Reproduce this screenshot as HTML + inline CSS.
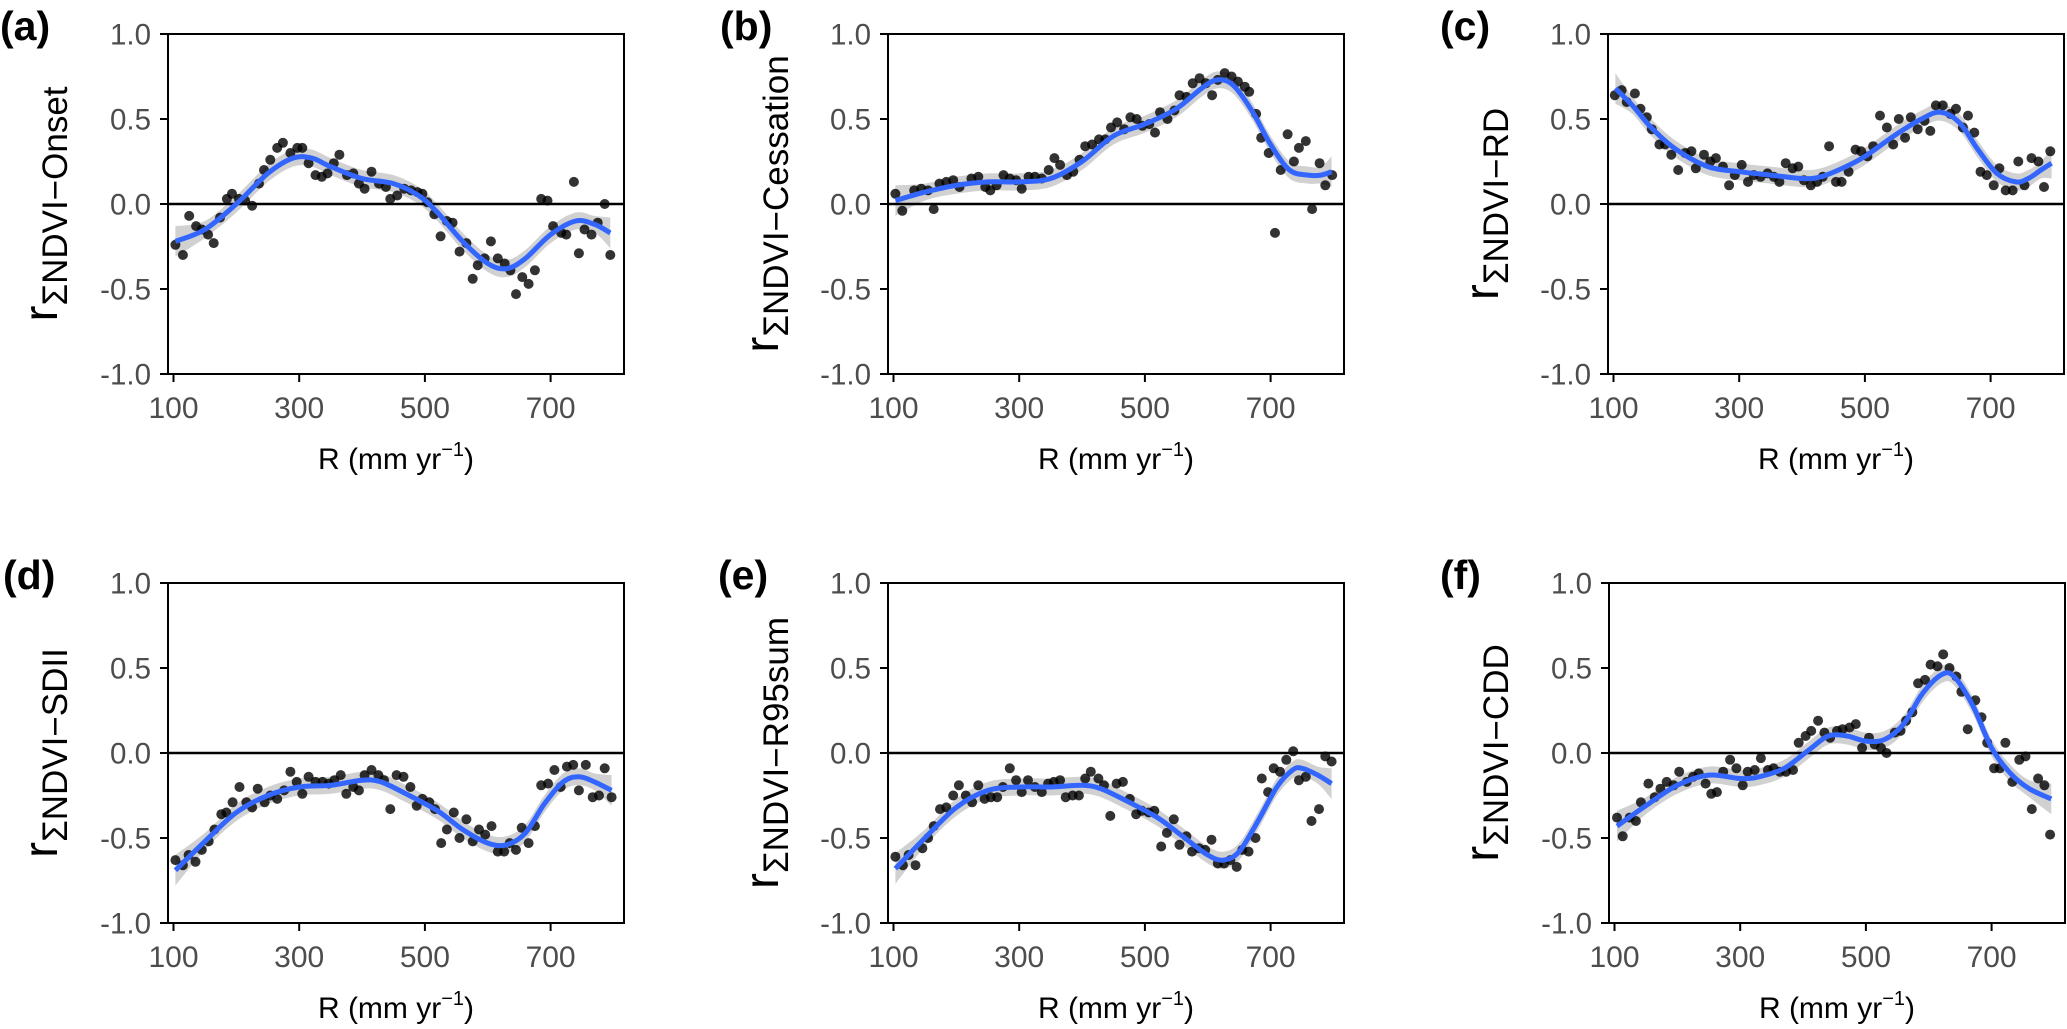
<!DOCTYPE html>
<html><head><meta charset="utf-8"><style>
html,body{margin:0;padding:0;background:#fff;}
svg{display:block;font-family:"Liberation Sans",Arial,sans-serif;}
</style></head><body>
<svg id="fig" width="2067" height="1029" viewBox="0 0 2067 1029" xmlns="http://www.w3.org/2000/svg"></svg>
<script>
// ---- Data ----
const xTicks = [100, 300, 500, 700];
const yTicks = [1.0, 0.5, 0.0, -0.5, -1.0];
const yTickLabels = ["1.0", "0.5", "0.0", "-0.5", "-1.0"];
const panelLetters = ["(a)", "(b)", "(c)", "(d)", "(e)", "(f)"];
const panelSubs = ["ΣNDVI−Onset", "ΣNDVI−Cessation", "ΣNDVI−RD", "ΣNDVI−SDII", "ΣNDVI−R95sum", "ΣNDVI−CDD"];

const xA = [103,115,125,136,145,155,164,174,185,193,204,214,225,236,244,254,265,274,286,297,305,315,326,336,345,355,364,376,386,395,404,415,427,438,445,456,467,478,488,496,504,515,525,535,544,555,566,576,584,595,605,616,627,636,645,655,665,675,685,695,704,717,725,737,745,754,765,775,786,795];
const yA = [-0.24,-0.30,-0.07,-0.13,-0.15,-0.18,-0.23,-0.08,0.03,0.06,0.03,0.02,-0.01,0.12,0.20,0.26,0.33,0.36,0.30,0.33,0.33,0.24,0.17,0.16,0.18,0.24,0.29,0.17,0.18,0.12,0.09,0.19,0.12,0.10,0.03,0.05,0.09,0.08,0.07,0.06,0.01,-0.06,-0.19,-0.10,-0.11,-0.28,-0.23,-0.44,-0.36,-0.32,-0.22,-0.32,-0.35,-0.39,-0.53,-0.43,-0.47,-0.39,0.03,0.02,-0.13,-0.17,-0.18,0.13,-0.29,-0.15,-0.18,-0.11,0.00,-0.30];
const cxA = [103,150,200,250,290,320,350,400,450,490,520,560,600,630,660,700,740,770,795];
const cyA = [-0.22,-0.15,0.00,0.18,0.27,0.27,0.22,0.15,0.12,0.05,-0.05,-0.22,-0.35,-0.38,-0.32,-0.18,-0.10,-0.12,-0.17];

const xB = [103,114,133,144,155,164,173,184,195,205,224,235,246,254,264,275,285,295,304,315,325,336,347,356,365,376,386,396,405,416,427,437,446,456,467,477,487,496,507,516,524,536,547,555,566,576,587,597,607,616,627,638,648,659,666,677,685,697,707,716,727,737,745,756,766,778,787,798];
const yB = [0.06,-0.04,0.08,0.09,0.08,-0.03,0.12,0.13,0.14,0.10,0.15,0.16,0.10,0.08,0.11,0.17,0.15,0.14,0.09,0.16,0.16,0.15,0.20,0.27,0.23,0.17,0.19,0.26,0.34,0.35,0.38,0.38,0.45,0.48,0.44,0.51,0.50,0.46,0.47,0.42,0.54,0.50,0.55,0.64,0.63,0.71,0.74,0.71,0.64,0.73,0.77,0.75,0.72,0.69,0.66,0.53,0.39,0.30,-0.17,0.20,0.41,0.25,0.33,0.37,-0.03,0.24,0.11,0.17];
const cxB = [103,150,200,250,300,350,400,450,500,550,590,615,640,670,700,730,760,780,797];
const cyB = [0.02,0.07,0.11,0.13,0.13,0.15,0.25,0.40,0.47,0.56,0.68,0.73,0.70,0.55,0.35,0.20,0.17,0.17,0.19];

const xC = [102,113,121,134,143,153,161,173,182,192,203,214,224,231,244,254,263,274,284,293,304,314,323,334,345,355,364,374,385,394,403,414,424,433,443,454,463,474,485,494,504,513,524,535,545,554,564,573,584,595,604,613,624,636,645,656,664,674,684,694,705,714,724,735,744,754,765,776,785,795];
const yC = [0.64,0.67,0.60,0.65,0.56,0.51,0.44,0.35,0.35,0.29,0.20,0.30,0.31,0.21,0.29,0.25,0.27,0.22,0.11,0.17,0.23,0.13,0.17,0.16,0.18,0.16,0.13,0.24,0.21,0.22,0.14,0.11,0.13,0.16,0.34,0.13,0.13,0.19,0.32,0.31,0.28,0.34,0.52,0.45,0.35,0.50,0.39,0.51,0.44,0.49,0.43,0.58,0.58,0.53,0.56,0.45,0.52,0.42,0.19,0.17,0.11,0.21,0.08,0.08,0.25,0.11,0.27,0.25,0.10,0.31];
const cxC = [103,130,160,200,250,300,350,400,430,470,500,550,590,620,650,680,710,740,760,780,797];
const cyC = [0.68,0.58,0.45,0.32,0.22,0.19,0.17,0.15,0.16,0.22,0.28,0.41,0.50,0.54,0.48,0.32,0.18,0.13,0.15,0.20,0.24];

const xD = [103,115,124,135,145,156,165,176,184,194,205,216,225,234,245,254,265,276,286,296,305,315,326,337,347,356,366,375,386,395,404,415,426,435,445,455,466,477,487,496,507,516,526,535,546,555,566,576,586,596,606,616,626,635,645,654,665,675,685,696,706,716,726,736,745,756,767,777,786,797];
const yD = [-0.63,-0.66,-0.60,-0.64,-0.57,-0.52,-0.45,-0.36,-0.35,-0.29,-0.20,-0.29,-0.32,-0.21,-0.29,-0.25,-0.27,-0.22,-0.11,-0.17,-0.24,-0.14,-0.17,-0.17,-0.18,-0.16,-0.13,-0.24,-0.20,-0.22,-0.13,-0.10,-0.13,-0.16,-0.33,-0.13,-0.14,-0.20,-0.31,-0.27,-0.29,-0.33,-0.53,-0.45,-0.35,-0.50,-0.39,-0.52,-0.45,-0.48,-0.43,-0.58,-0.58,-0.53,-0.57,-0.44,-0.53,-0.43,-0.19,-0.18,-0.10,-0.20,-0.08,-0.07,-0.22,-0.07,-0.26,-0.25,-0.09,-0.26];
const cxD = [103,150,200,250,300,350,400,430,470,520,560,600,630,660,690,720,745,770,797];
const cyD = [-0.69,-0.52,-0.35,-0.25,-0.20,-0.19,-0.16,-0.17,-0.24,-0.34,-0.45,-0.53,-0.54,-0.47,-0.30,-0.17,-0.14,-0.17,-0.22];

const xE = [103,115,124,135,146,155,164,174,184,195,204,215,225,235,245,255,265,274,285,295,304,314,325,336,346,355,365,374,385,395,405,414,426,435,445,455,465,476,486,495,506,515,526,535,546,555,566,575,586,596,606,616,626,636,646,655,665,676,686,696,705,715,725,736,745,756,765,777,787,797];
const yE = [-0.61,-0.66,-0.60,-0.66,-0.56,-0.50,-0.43,-0.33,-0.32,-0.25,-0.19,-0.25,-0.29,-0.19,-0.27,-0.26,-0.26,-0.20,-0.09,-0.16,-0.23,-0.16,-0.20,-0.23,-0.18,-0.17,-0.16,-0.26,-0.25,-0.25,-0.15,-0.11,-0.15,-0.19,-0.37,-0.18,-0.17,-0.27,-0.36,-0.34,-0.35,-0.34,-0.55,-0.47,-0.39,-0.54,-0.49,-0.58,-0.56,-0.57,-0.51,-0.65,-0.65,-0.63,-0.67,-0.57,-0.58,-0.50,-0.15,-0.23,-0.09,-0.11,-0.04,0.01,-0.16,-0.14,-0.40,-0.33,-0.02,-0.05];
const cxE = [103,150,200,250,300,350,400,430,470,520,560,600,625,650,680,710,735,750,775,797];
const cyE = [-0.68,-0.50,-0.32,-0.22,-0.20,-0.20,-0.19,-0.21,-0.28,-0.38,-0.49,-0.60,-0.63,-0.58,-0.40,-0.20,-0.10,-0.09,-0.13,-0.18];

const xF = [104,113,124,134,142,154,164,173,183,194,203,215,225,234,245,254,263,273,284,294,304,312,323,333,344,353,363,373,384,393,404,413,424,434,443,454,463,474,484,494,505,514,524,533,546,555,564,574,583,594,603,614,623,633,644,652,662,674,684,693,704,713,722,733,744,754,764,774,784,793];
const yF = [-0.38,-0.49,-0.38,-0.40,-0.29,-0.18,-0.26,-0.21,-0.17,-0.19,-0.11,-0.17,-0.14,-0.12,-0.18,-0.24,-0.23,-0.11,-0.04,-0.09,-0.19,-0.11,-0.10,-0.03,-0.10,-0.09,-0.11,-0.11,-0.10,0.06,0.10,0.13,0.19,0.12,0.09,0.13,0.14,0.15,0.17,0.03,0.09,0.05,0.03,0.00,0.12,0.13,0.19,0.24,0.41,0.43,0.52,0.51,0.58,0.50,0.45,0.36,0.14,0.31,0.21,0.06,-0.09,-0.09,0.06,-0.17,-0.04,-0.02,-0.33,-0.15,-0.19,-0.48];
const cxF = [104,150,200,250,300,330,370,410,440,470,500,530,560,590,620,640,670,700,730,760,795];
const cyF = [-0.43,-0.31,-0.19,-0.13,-0.15,-0.14,-0.09,0.02,0.10,0.10,0.07,0.08,0.17,0.35,0.46,0.45,0.28,0.03,-0.12,-0.21,-0.27];

// ---- Layout ----
const NS = "http://www.w3.org/2000/svg";
const svg = document.getElementById("fig");
const panelDefs = [
  {px: xA, py: yA, cx: cxA, cy: cyA, left: 168, top: 34, letterX: 0, letterY: 40, labX: 57},
  {px: xB, py: yB, cx: cxB, cy: cyB, left: 888, top: 34, letterX: 720, letterY: 40, labX: 778},
  {px: xC, py: yC, cx: cxC, cy: cyC, left: 1608, top: 34, letterX: 1440, letterY: 40, labX: 1498},
  {px: xD, py: yD, cx: cxD, cy: cyD, left: 168, top: 583, letterX: 3, letterY: 589, labX: 57},
  {px: xE, py: yE, cx: cxE, cy: cyE, left: 888, top: 583, letterX: 718, letterY: 589, labX: 778},
  {px: xF, py: yF, cx: cxF, cy: cyF, left: 1609, top: 583, letterX: 1440, letterY: 589, labX: 1498}
];
const W = 456, H = 340;

function mk(tag, attrs, parent) {
  const e = document.createElementNS(NS, tag);
  for (const k in attrs) e.setAttribute(k, attrs[k]);
  (parent || svg).appendChild(e);
  return e;
}
function spline(pts) {
  let d = "M" + pts[0][0].toFixed(1) + "," + pts[0][1].toFixed(1);
  for (let i = 0; i < pts.length - 1; i++) {
    const p0 = pts[Math.max(0, i - 1)], p1 = pts[i], p2 = pts[i + 1], p3 = pts[Math.min(pts.length - 1, i + 2)];
    const c1x = p1[0] + (p2[0] - p0[0]) / 6, c1y = p1[1] + (p2[1] - p0[1]) / 6;
    const c2x = p2[0] - (p3[0] - p1[0]) / 6, c2y = p2[1] - (p3[1] - p1[1]) / 6;
    d += "C" + c1x.toFixed(1) + "," + c1y.toFixed(1) + " " + c2x.toFixed(1) + "," + c2y.toFixed(1) + " " + p2[0].toFixed(1) + "," + p2[1].toFixed(1);
  }
  return d;
}

panelDefs.forEach((p, idx) => {
  const g = mk("g", {});
  
  
  const xs = v => p.left + 5.5 + (v - 100) * 0.6285;
  const ys = v => p.top + 170 - v * 170;

  const lt = mk("text", {x: p.letterX, y: p.letterY, "font-size": 41, "font-weight": "bold", fill: "#000"}, g);
  lt.textContent = panelLetters[idx];
  
  

  const cyMid = p.top + H / 2;
  const yt = mk("text", {transform: "translate(" + p.labX + "," + cyMid + ") rotate(-90)", "text-anchor": "middle", fill: "#000"}, g);
  
  
  const t1 = mk("tspan", {"font-size": 48}, yt); t1.textContent = "r";
  const t2 = mk("tspan", {"font-size": 35, dy: 10}, yt); t2.textContent = panelSubs[idx];

  const upper = p.cx.map((x, i) => [xs(x), ys(p.cy[i] + (i === 0 || i === p.cx.length - 1 ? 0.09 : 0.05))]);
  const lower = p.cx.map((x, i) => [xs(x), ys(p.cy[i] - (i === 0 || i === p.cx.length - 1 ? 0.09 : 0.05))]).reverse();
  const band = mk("path", {d: spline(upper) + "L" + spline(lower).slice(1) + "Z", fill: "#b8b8b8", "fill-opacity": 0.65}, g);
  
  

  const zl = mk("line", {x1: p.left, x2: p.left + W, y1: ys(0), y2: ys(0), stroke: "#000", "stroke-width": 2.4}, g);
  
  

  p.px.forEach((x, i) => {
    const c = mk("circle", {cx: xs(x).toFixed(1), cy: ys(p.py[i]).toFixed(1), r: 5, fill: "#000", "fill-opacity": 0.8}, g);
    
    
  });

  const ln = mk("path", {d: spline(p.cx.map((x, i) => [xs(x), ys(p.cy[i])])), fill: "none", stroke: "#3366FF", "stroke-width": 5, "stroke-linecap": "butt"}, g);
  
  

  const br = mk("rect", {x: p.left, y: p.top, width: W, height: H, fill: "none", stroke: "#000", "stroke-width": 2}, g);
  
  

  yTicks.forEach((v, i) => {
    const tk = mk("line", {x1: p.left - 8, x2: p.left, y1: ys(v), y2: ys(v), stroke: "#000", "stroke-width": 2}, g);
    
    
    const tl = mk("text", {x: p.left - 17, y: ys(v) + 10.5, "text-anchor": "end", "font-size": 29.5, fill: "#4d4d4d"}, g);
    tl.textContent = yTickLabels[i];
    
    
  });
  xTicks.forEach(v => {
    const tk = mk("line", {x1: xs(v), x2: xs(v), y1: p.top + H, y2: p.top + H + 8, stroke: "#000", "stroke-width": 2}, g);
    
    
    const tl = mk("text", {x: xs(v), y: p.top + H + 44, "text-anchor": "middle", "font-size": 30, fill: "#4d4d4d"}, g);
    tl.textContent = String(v);
    
    
  });
  const xt = mk("text", {x: p.left + W / 2, y: p.top + H + 95, "text-anchor": "middle", "font-size": 30, fill: "#000"}, g);
  
  
  const s1 = mk("tspan", {}, xt); s1.textContent = "R (mm yr";
  const s2 = mk("tspan", {"font-size": 20, dy: -13}, xt); s2.textContent = "−1";
  const s3 = mk("tspan", {dy: 13}, xt); s3.textContent = ")";
});
</script>
</body></html>
